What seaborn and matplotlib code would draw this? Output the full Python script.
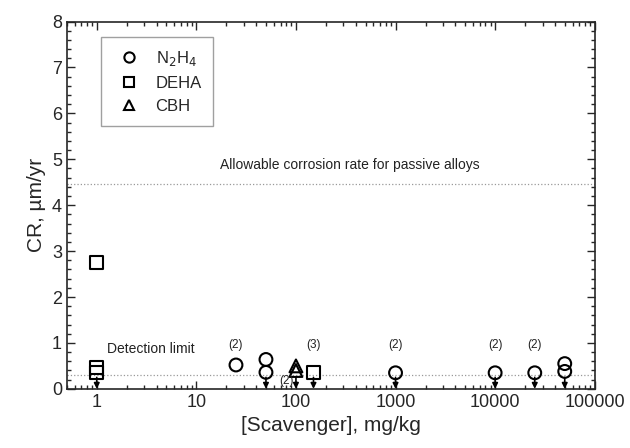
import numpy as np
import pandas as pd
import matplotlib
matplotlib.use("Agg")
import matplotlib.pyplot as plt
import seaborn as sns

# data
n2h4_x = [25, 50, 50, 1000, 10000, 25000, 50000, 50000]
n2h4_y = [0.52, 0.64, 0.36, 0.35, 0.35, 0.35, 0.55, 0.38]
deha_x = [1, 1, 1, 150]
deha_y = [2.75, 0.46, 0.36, 0.36]
cbh_x = [100, 100]
cbh_y = [0.50, 0.40]

# points below detection limit (arrows)
arrow_x = [1, 50, 100, 150, 1000, 10000, 25000, 50000]

# replicate counts
note_x = [25, 80, 150, 1000, 10000, 25000]
note_y = [0.82, 0.05, 0.82, 0.82, 0.82, 0.82]
note_txt = ["(2)", "(2)", "(3)", "(2)", "(2)", "(2)"]

detection_limit = 0.3
allowable = 4.47

df = pd.DataFrame({
    "x": n2h4_x + deha_x + cbh_x,
    "y": n2h4_y + deha_y + cbh_y,
    "scav": ["N$_2$H$_4$"] * len(n2h4_x) + ["DEHA"] * len(deha_x) + ["CBH"] * len(cbh_x),
})

sns.set_style("ticks")
plt.rcParams["font.family"] = ["Liberation Sans", "DejaVu Sans"]

fig = plt.figure(figsize=(6.3, 4.48), dpi=100)
ax = fig.add_axes([0.106, 0.132, 0.838, 0.820])

# detection limit arrows
for xa in arrow_x:
    ax.annotate("", xy=(xa, 0.0), xytext=(xa, 0.25),
                arrowprops=dict(arrowstyle="-|>", color="black", lw=1.2,
                                mutation_scale=8, shrinkA=0, shrinkB=0))

ax.axhline(detection_limit, color="#999999", ls=":", lw=0.9, zorder=0)
ax.axhline(allowable, color="#999999", ls=":", lw=0.9, zorder=0)

sns.scatterplot(data=df, x="x", y="y", style="scav",
                markers={"N$_2$H$_4$": "o", "DEHA": "s", "CBH": "^"},
                s=85, facecolor="none", edgecolor="black", linewidth=1.5,
                ax=ax, legend=True, zorder=3)

for xn, yn, t in zip(note_x, note_y, note_txt):
    ax.text(xn, yn, t, ha="center", va="bottom", fontsize=8.5, color="#222222")

ax.text(350, 4.72, "Allowable corrosion rate for passive alloys",
        ha="center", va="bottom", fontsize=10, color="#222222")
ax.text(3.5, 0.72, "Detection limit", ha="center", va="bottom",
        fontsize=10, color="#222222")

ax.set_xscale("log")
ax.set_xlim(0.5, 100000)
ax.set_ylim(0, 8)
ax.set_yticks(range(0, 9))
ax.yaxis.set_minor_locator(matplotlib.ticker.MultipleLocator(0.2))
ax.xaxis.set_minor_locator(matplotlib.ticker.LogLocator(base=10, subs=np.arange(2, 10), numticks=20))
ax.xaxis.set_minor_formatter(matplotlib.ticker.NullFormatter())
ax.set_xticks([1, 10, 100, 1000, 10000, 100000])
ax.set_xticklabels(["1", "10", "100", "1000", "10000", "100000"])

ax.tick_params(which="both", direction="in", top=True, right=True, width=1)
ax.tick_params(which="major", length=6, labelsize=13)
ax.tick_params(which="minor", length=3)
for sp in ax.spines.values():
    sp.set_linewidth(1.2)

ax.set_xlabel("[Scavenger], mg/kg", fontsize=15)
ax.set_ylabel("CR, \u00b5m/yr", fontsize=15)

handles, labels = ax.get_legend_handles_labels()
for h in handles:
    h.set_markerfacecolor("none")
    h.set_markeredgecolor("black")
    h.set_markeredgewidth(1.5)
leg = ax.legend(handles, labels, loc="upper left", bbox_to_anchor=(0.064, 0.958),
                borderaxespad=0, fontsize=12, frameon=True, fancybox=False,
                edgecolor="#888888", handletextpad=0.6, borderpad=0.7,
                markerscale=0.8)
leg.get_frame().set_linewidth(1.0)

fig.savefig("out.png", dpi=100)
